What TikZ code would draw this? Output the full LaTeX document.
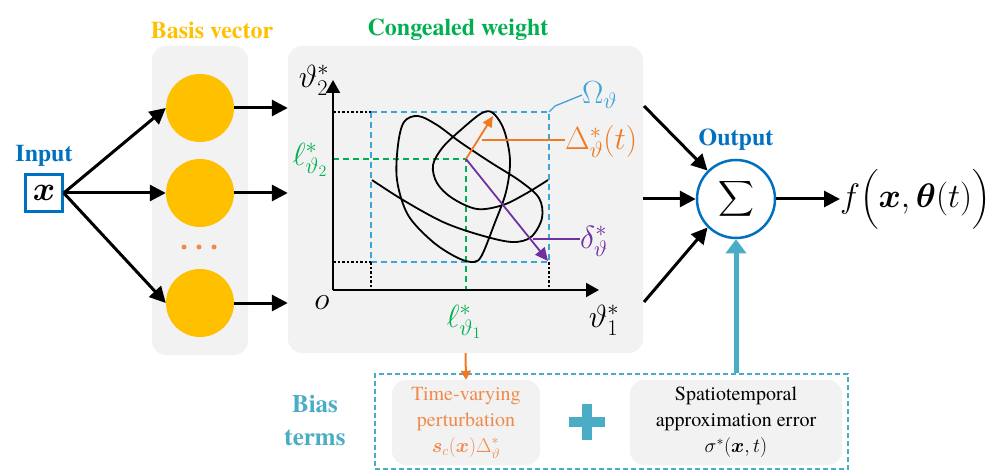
\RequirePackage{fix-cm}
\documentclass[tikz,border=0pt]{standalone}
\usepackage{amsmath}
\usepackage{fontspec}
\setmainfont{texgyretermes}[Extension=.otf, UprightFont=*-regular, BoldFont=*-bold,
  ItalicFont=*-italic, BoldItalicFont=*-bolditalic]
\usetikzlibrary{arrows.meta}
\definecolor{cgold}{HTML}{FFC000}
\definecolor{cgreen}{HTML}{00B050}
\definecolor{cblue}{HTML}{0070C0}
\definecolor{cpanel}{HTML}{F2F2F2}
\definecolor{cteal}{HTML}{4BACC6}
\definecolor{csky}{HTML}{3CA5D5}
\definecolor{corange}{HTML}{F07A22}
\definecolor{clorange}{HTML}{F08A4B}
\definecolor{cpurple}{HTML}{7030A0}
\tikzset{
  panel/.style={fill=cpanel, rounded corners=14pt, inner sep=0pt},
  basis/.style={circle, fill=cgold, minimum size=68pt, inner sep=0pt},
  dotnode/.style={circle, fill=clorange, minimum size=5pt, inner sep=0pt},
  arr/.style={line width=3pt, -{Triangle[length=16pt,width=16pt]}},
  axisline/.style={line width=2pt, -{Triangle[length=13pt,width=14pt]}},
  title/.style={font=\fontsize{24}{28}\selectfont\bfseries, inner sep=0pt},
  mlab/.style={font=\fontsize{32}{32}\selectfont, inner sep=0pt},
  blkdot/.style={line width=1.3pt, dash pattern=on 2.5pt off 2pt},
  skydash/.style={draw=csky, line width=1.3pt, dash pattern=on 6pt off 4pt},
  grdash/.style={draw=cgreen, line width=1.6pt, dash pattern=on 6pt off 4pt},
  curve/.style={line width=1.8pt, line join=round},
  oarr/.style={draw=corange, line width=1.8pt, -{Triangle[length=11pt,width=10pt]}},
  parr/.style={draw=cpurple, line width=1.8pt, -{Triangle[length=13pt,width=12pt]}},
  greybox/.style={fill=cpanel, rounded corners=14pt, inner sep=0pt, align=center,
    font=\fontsize{20}{26}\selectfont},
}
\begin{document}
\begin{tikzpicture}[x=1pt,y=-1pt]
\useasboundingbox (0,0) rectangle (994,476);
\fill[white] (0,0) rectangle (994,476);

% titles
\node[title, text=cgold] (tbasis) at (212,30) {Basis vector};
\node[title, text=cgreen] (tweight) at (458,30) {Congealed weight};

% panels
\node[panel, minimum width=96pt, minimum height=309pt] (bpanel) at (200,200.5) {};
\node[panel, minimum width=355pt, minimum height=307pt] (wpanel) at (465.5,199.5) {};

% basis circles
\node[basis] (c1) at (200,108) {};
\node[basis] (c2) at (200,193) {};
\node[basis] (c3) at (200,303) {};
\node[dotnode] (d1) at (184,247) {};
\node[dotnode] (d2) at (199,247) {};
\node[dotnode] (d3) at (214,247) {};

% input
\node[title, text=cblue] (tin) at (44,156) {Input};
\node[draw=cblue, line width=2.5pt, minimum size=37pt, inner sep=0pt,
  font=\fontsize{34}{34}\selectfont] (inp) at (44,193) {$\boldsymbol{x}$};
\draw[arr] (inp.east) -- (c1.west);
\draw[arr] (inp.east) -- (c2.west);
\draw[arr] (inp.east) -- (c3.west);
\draw[arr] (c1.east) -- (c1.east -| wpanel.west);
\draw[arr] (c2.east) -- (c2.east -| wpanel.west);
\draw[arr] (c3.east) -- (c3.east -| wpanel.west);

% plot
\coordinate (O) at (333,290);
\coordinate (ytop) at (333,80);
\coordinate (xend) at (599,290);
\coordinate (A) at (371,112);
\coordinate (B) at (549,112);
\coordinate (C) at (549,262);
\coordinate (D) at (371,262);
\coordinate (L) at (466,159);
\draw[skydash] (A) rectangle (C);
\draw[blkdot] (A -| O) -- (A);
\draw[blkdot] (D -| O) -- (D);
\draw[blkdot] (D) -- (D |- O);
\draw[blkdot] (C) -- (C |- O);
\draw[grdash] (L -| O) -- (L) -- (L |- O);
\draw[axisline] (O) -- (ytop);
\draw[axisline] (O) -- (xend);

\draw[curve] plot[smooth, tension=0.55] coordinates {
 (372,180) (403,200) (443,222) (480,235) (512,242) (531,237) (542,218)
 (539,198) (520,181) (490,162) (460,142) (437,125) (418,116) (404,122)
 (398,145) (397,180) (408,215) (433,242) (458,258) (474,262) (482,255)
 (494,225) (506,192) (510,160) (504,130) (493,113) (482,113) (463,128)
 (443,147) (433,165) (437,183) (452,198) (477,209) (503,205) (527,193) (548,180)};

\coordinate (Dtip) at (493,116);
\coordinate (dtip) at (548,261);
\draw[oarr] (L) -- (Dtip);
\draw[parr] (L) -- (dtip);

% plot labels
\node[mlab] (lt2) at (314,80) {$\vartheta_2^*$};
\node[mlab] (lt1) at (604,320) {$\vartheta_1^*$};
\node[mlab] (lo) at (322,303) {$o$};
\node[mlab, text=cgreen] (ll2) at (310,160) {$\ell^*_{\vartheta_2}$};
\node[mlab, text=cgreen] (ll1) at (464,322) {$\ell^*_{\vartheta_1}$};
\node[mlab, text=csky, anchor=west] (lom) at (582,95) {$\Omega_\vartheta$};
\node[mlab, text=corange, anchor=west] (lDel) at (565,142) {$\Delta^*_\vartheta(t)$};
\node[mlab, text=cpurple, anchor=west] (ldel) at (580,241) {$\delta^*_\vartheta$};
\draw[draw=csky, line width=1.3pt] (B) -- (555,106) -- (lom.west);
\draw[draw=corange, line width=1.8pt] (482,140) -- (lDel.west |- 0,140);
\draw[draw=cpurple, line width=1.8pt] (533,239) -- (ldel.west |- 0,239);

% output
\node[circle, draw=cblue, line width=2.5pt, minimum size=78pt, inner sep=0pt,
  font=\fontsize{30}{30}\selectfont] (sum) at (736,199) {$\displaystyle\sum$};
\node[title, text=cblue] (tout) at (736,140) {Output};
\coordinate (o1) at (644,106);
\coordinate (o3) at (644,302);
\draw[arr] (o1) -- (sum.135);
\draw[arr] (sum.west -| wpanel.east) -- (sum.west);
\draw[arr] (o3) -- (sum.225);
\node[mlab, font=\fontsize{34}{34}\selectfont, anchor=west] (fout) at (840,199)
  {$f\Bigl(\boldsymbol{x},\boldsymbol{\theta}(t)\Bigr)$};
\draw[arr] (sum.east) -- (fout.west);

% bias terms
\node[draw=cteal, line width=1.5pt, dash pattern=on 5pt off 3pt,
  minimum width=473pt, minimum height=95pt, inner sep=0pt] (bias) at (611.5,421.5) {};
\node[title, text=cteal, align=center, font=\fontsize{25}{33}\selectfont\bfseries] (tbias) at (315,421) {Bias\\terms};
\node[greybox, minimum width=148pt, minimum height=85pt, text=clorange] (tv) at (466,422.5)
  {Time-varying\\perturbation\\$\boldsymbol{s}_c(\boldsymbol{x})\Delta^*_\vartheta$};
\node[greybox, minimum width=212pt, minimum height=85pt] (st) at (736,422.5)
  {Spatiotemporal\\approximation error\\$\sigma^*(\boldsymbol{x},t)$};
\node[inner sep=0pt, minimum size=36pt] (plus) at (587,422) {};
\draw[cteal, line width=10pt] (plus.west) -- (plus.east);
\draw[cteal, line width=10pt] (plus.north) -- (plus.south);
\draw[draw=corange, line width=2pt, -{Triangle[length=9pt,width=10pt]}] (wpanel.south) -- (tv.north);
\draw[draw=cteal, line width=5pt, -{Triangle[length=14pt,width=20pt]}] (bias.north -| sum) -- (sum.south);
\end{tikzpicture}
\end{document}
